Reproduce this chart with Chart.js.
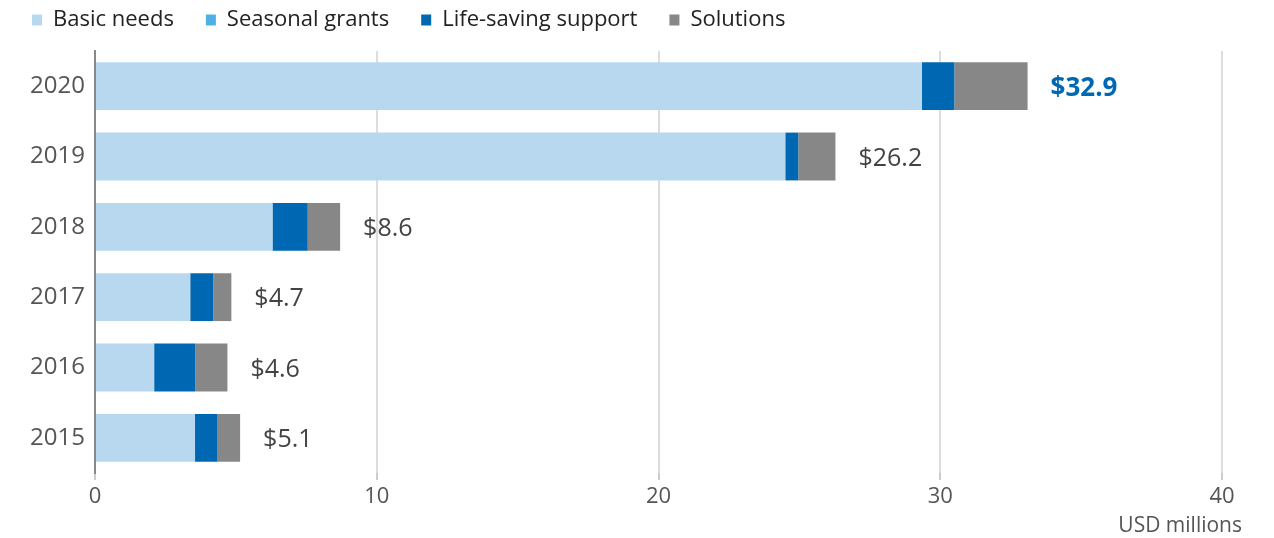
<!DOCTYPE html>
<html><head><meta charset="utf-8">
<script src="https://cdn.jsdelivr.net/npm/chart.js@4/dist/chart.umd.min.js"></script>
<style>html,body{margin:0;padding:0;background:#fff}#wrap{width:1274px;height:538px;position:relative}</style>
</head><body><div id="wrap"><canvas id="c"></canvas></div>
<script>
const years = ['2020','2019','2018','2017','2016','2015'];
const basicNeeds = [29.35, 24.5, 6.3, 3.38, 2.1, 3.55];
const seasonalGrants = [0, 0, 0, 0, 0, 0];
const lifeSaving = [1.15, 0.46, 1.25, 0.82, 1.46, 0.8];
const solutions = [2.6, 1.32, 1.15, 0.64, 1.14, 0.8];
const totalLabels = ['$32.9','$26.2','$8.6','$4.7','$4.6','$5.1'];
const xTicks = [0, 10, 20, 30, 40];
const xTitle = 'USD millions';

const FONT = "'Open Sans', sans-serif";
const LEGEND_PAD = 32;

const layoutTweaks = {
  id: 'layoutTweaks',
  beforeInit(chart) {
    const lg = chart.legend;
    if (lg) {
      const fit = lg.fit;
      lg.fit = function () { fit.call(this); this.height = 51; };
    }
  },
  afterLayout(chart) {
    const lg = chart.legend;
    if (lg) { lg.top = 9 - LEGEND_PAD; lg.bottom = 51; lg.height = lg.bottom - lg.top; }
  }
};

const endLabels = {
  id: 'endLabels',
  afterDatasetsDraw(chart) {
    const ctx = chart.ctx;
    const meta = chart.getDatasetMeta(3);
    ctx.save();
    ctx.textBaseline = 'middle';
    ctx.textAlign = 'left';
    meta.data.forEach((bar, i) => {
      const x = bar.x + 23;
      if (i === 0) { ctx.font = "bold 26px " + FONT; ctx.fillStyle = '#0068B3'; }
      else { ctx.font = "25px " + FONT; ctx.fillStyle = '#444'; }
      ctx.fillText(totalLabels[i], x, bar.y + 2);
    });
    ctx.font = "21px " + FONT;
    ctx.fillStyle = '#555';
    ctx.textAlign = 'right';
    ctx.fillText(xTitle, chart.chartArea.right + 20, 526);
    ctx.restore();
  }
};

new Chart(document.getElementById('c'), {
  type: 'bar',
  data: {
    labels: years,
    datasets: [
      { label: 'Basic needs', data: basicNeeds, backgroundColor: '#B8D8F0' },
      { label: 'Seasonal grants', data: seasonalGrants, backgroundColor: '#4DB0E6' },
      { label: 'Life-saving support', data: lifeSaving, backgroundColor: '#0068B3' },
      { label: 'Solutions', data: solutions, backgroundColor: '#878787' }
    ]
  },
  options: {
    indexAxis: 'y',
    responsive: true,
    maintainAspectRatio: false,
    animation: false,
    layout: { padding: { left: 0, right: 52, top: 0, bottom: 0 } },
    datasets: { bar: { categoryPercentage: 0.68, barPercentage: 1.0, borderWidth: 0 } },
    plugins: {
      legend: {
        position: 'top', align: 'start',
        labels: { boxWidth: 10, boxHeight: 11, padding: LEGEND_PAD, color: '#222', font: { family: FONT, size: 22 } }
      },
      tooltip: { enabled: false }
    },
    scales: {
      x: {
        stacked: true, min: 0, max: 40,
        afterBuildTicks(s) { s.ticks = xTicks.map(v => ({ value: v })); },
        afterFit(s) { s.height = 65; },
        grid: {
          color: (c) => (c.tick && c.tick.value === 0) ? 'rgba(0,0,0,0)' : '#DDDDDD',
          lineWidth: 2, drawTicks: true, tickLength: 7, tickColor: '#CCCCCC'
        },
        border: { display: false },
        ticks: { color: '#555', font: { family: FONT, size: 22 }, padding: 4 }
      },
      y: {
        stacked: true,
        afterFit(s) { s.width = 95; },
        grid: { display: false, drawTicks: false },
        border: { display: true, color: '#888', width: 2 },
        ticks: { color: '#555', font: { family: FONT, size: 24 }, padding: 10 }
      }
    }
  },
  plugins: [layoutTweaks, endLabels]
});
</script></body></html>
